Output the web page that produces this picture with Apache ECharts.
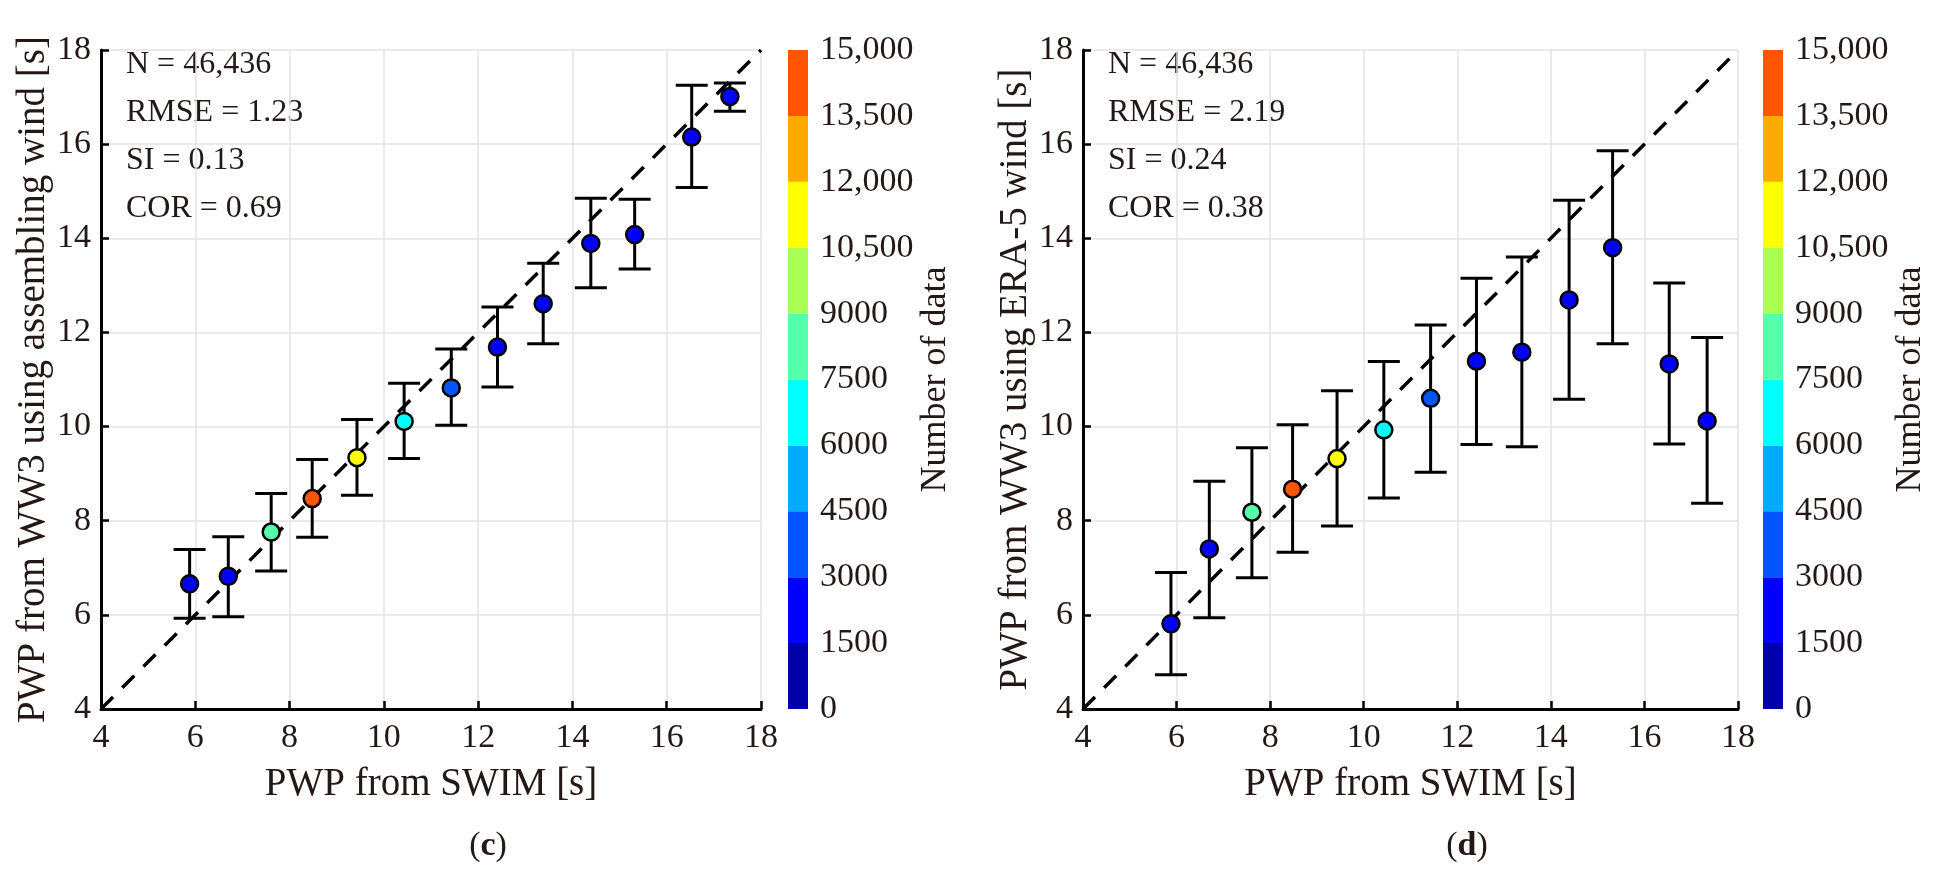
<!DOCTYPE html>
<html>
<head>
<meta charset="utf-8">
<title>PWP comparison</title>
<script src="https://cdn.jsdelivr.net/npm/echarts@6/dist/echarts.min.js"></script>
<style>
  html, body { margin: 0; padding: 0; background: #fff; }
  #chart { width: 1934px; height: 872px; }
</style>
</head>
<body>
<div id="chart"></div>
<script>
// SWIM peak wave period bins (x) and the number of samples in each bin
const swimBins = [5.88, 6.70, 7.61, 8.48, 9.43, 10.43, 11.43, 12.41, 13.38, 14.39, 15.32, 16.53, 17.34];
const binCount = [2200, 2400, 8200, 14200, 11200, 6800, 3600, 2300, 2200, 2000, 1900, 1700, 1600];

// (c) WW3 with assembling wind: mean and +/- std
const assembMean = [6.66, 6.82, 7.76, 8.47, 9.34, 10.11, 10.82, 11.69, 12.61, 13.89, 14.08, 16.15, 17.01];
const assembLow  = [5.93, 5.96, 6.93, 7.65, 8.54, 9.32, 10.03, 10.84, 11.76, 12.95, 13.35, 15.08, 16.70];
const assembHigh = [7.39, 7.66, 8.58, 9.30, 10.15, 10.92, 11.65, 12.54, 13.47, 14.85, 14.83, 17.25, 17.30];

// (d) WW3 with ERA-5 wind
const era5Mean = [5.81, 7.40, 8.18, 8.67, 9.32, 9.93, 10.60, 11.39, 11.58, 12.69, 13.80, 11.33, 10.12];
const era5Low  = [4.73, 5.94, 6.79, 7.33, 7.89, 8.48, 9.03, 9.62, 9.57, 10.58, 11.76, 9.63, 8.37];
const era5High = [6.90, 8.84, 9.55, 10.04, 10.76, 11.38, 12.16, 13.15, 13.60, 14.81, 15.86, 13.05, 11.89];

const statsC = ['N = 46,436', 'RMSE = 1.23', 'SI = 0.13', 'COR = 0.69'];
const statsD = ['N = 46,436', 'RMSE = 2.19', 'SI = 0.24', 'COR = 0.38'];

// 1:1 reference line
const oneToOne = [[4, 4], [18, 18]];

// colour bar: band edges and jet(10) colours
const cbEdges = [0, 1500, 3000, 4500, 6000, 7500, 9000, 10500, 12000, 13500, 15000];
const cbColors = ['#0000aa', '#0000ff', '#0055ff', '#00aaff', '#00ffff',
                  '#55ffaa', '#aaff55', '#ffff00', '#ffaa00', '#ff5500'];

const FONT = "'Liberation Serif', 'Times New Roman', serif";
const INK = '#231815';

let chart = echarts.init(document.getElementById('chart'));

function errBar(params, api) {
    let x = api.value(0);
    let lo = api.coord([x, api.value(1)]);
    let hi = api.coord([x, api.value(2)]);
    let hw = 16;
    let style = { stroke: '#000', lineWidth: 3, fill: null };
    return {
        type: 'group',
        children: [
            { type: 'line', shape: { x1: lo[0], y1: lo[1], x2: hi[0], y2: hi[1] }, style: style },
            { type: 'line', shape: { x1: hi[0] - hw, y1: hi[1], x2: hi[0] + hw, y2: hi[1] }, style: style },
            { type: 'line', shape: { x1: lo[0] - hw, y1: lo[1], x2: lo[0] + hw, y2: lo[1] }, style: style }
        ]
    };
}

function plotAxis(name, isX, gridIndex) {
    return {
        type: 'value',
        gridIndex: gridIndex,
        min: 4,
        max: 18,
        interval: 2,
        name: name,
        nameLocation: 'middle',
        nameGap: isX ? 56 : 46,
        nameTextStyle: { fontFamily: FONT, fontSize: 39, color: INK },
        axisLine: { show: true, onZero: false, lineStyle: { color: '#000', width: 3 } },
        axisTick: { show: true, inside: true, length: 8, lineStyle: { color: '#000', width: 2.5 } },
        axisLabel: { fontFamily: FONT, fontSize: 34, color: INK, margin: isX ? 12 : 10 },
        splitLine: { show: true, lineStyle: { color: '#e3e3e3', width: 1.5 } }
    };
}

function cbAxis(gridIndex, gap) {
    return {
        type: 'value',
        gridIndex: gridIndex,
        position: 'right',
        min: cbEdges[0],
        max: cbEdges[cbEdges.length - 1],
        interval: 1500,
        name: 'Number of data',
        nameLocation: 'middle',
        nameRotate: 90,
        nameGap: gap,
        nameTextStyle: { fontFamily: FONT, fontSize: 36, color: INK },
        axisLine: { show: false },
        axisTick: { show: false },
        splitLine: { show: false },
        axisLabel: {
            fontFamily: FONT, fontSize: 34, color: INK, margin: 12,
            formatter: function (v) {
                return v >= 10000 ? String(v).replace(/(\d)(\d{3})$/, '$1,$2') : String(v);
            }
        }
    };
}

function cbSeries(axisIndex, stackName) {
    let out = [];
    for (let i = 0; i < cbColors.length; i++) {
        out.push({
            type: 'bar',
            xAxisIndex: axisIndex,
            yAxisIndex: axisIndex,
            stack: stackName,
            barWidth: '100%',
            silent: true,
            itemStyle: { color: cbColors[i] },
            data: [cbEdges[i + 1] - cbEdges[i]]
        });
    }
    return out;
}

function statText(lines, left) {
    return {
        type: 'text',
        left: left,
        top: 41,
        style: {
            text: lines.join('\n'),
            font: '32px ' + FONT,
            fill: INK,
            lineHeight: 48
        }
    };
}

let pointsC = swimBins.map((x, i) => [x, assembMean[i], binCount[i]]);
let barsC = swimBins.map((x, i) => [x, assembLow[i], assembHigh[i]]);
let pointsD = swimBins.map((x, i) => [x, era5Mean[i], binCount[i]]);
let barsD = swimBins.map((x, i) => [x, era5Low[i], era5High[i]]);

let pieces = [];
for (let i = 0; i < cbColors.length; i++) {
    pieces.push({ gte: cbEdges[i], lt: cbEdges[i + 1], color: cbColors[i] });
}

let option = {
    backgroundColor: '#fff',
    animation: false,
    textStyle: { fontFamily: FONT },
    title: [
        { text: '({b|c})', left: 483, top: 824, textAlign: 'center',
          textStyle: { fontFamily: FONT, fontSize: 34, fontWeight: 'normal', color: INK,
                       rich: { b: { fontFamily: FONT, fontSize: 34, fontWeight: 'bold', color: INK } } } },
        { text: '({b|d})', left: 1462, top: 824, textAlign: 'center',
          textStyle: { fontFamily: FONT, fontSize: 34, fontWeight: 'normal', color: INK,
                       rich: { b: { fontFamily: FONT, fontSize: 34, fontWeight: 'bold', color: INK } } } }
    ],
    grid: [
        { left: 101, top: 50, width: 660, height: 659 },
        { left: 788, top: 50, width: 20, height: 659 },
        { left: 1083, top: 50, width: 655, height: 659 },
        { left: 1763, top: 50, width: 20, height: 659 }
    ],
    xAxis: [
        plotAxis('PWP from SWIM [s]', true, 0),
        { type: 'category', gridIndex: 1, data: ['n'], show: false },
        plotAxis('PWP from SWIM [s]', true, 2),
        { type: 'category', gridIndex: 3, data: ['n'], show: false }
    ],
    yAxis: [
        plotAxis('PWP from WW3 using assembling wind [s]', false, 0),
        cbAxis(1, 106),
        plotAxis('PWP from WW3 using ERA-5 wind [s]', false, 2),
        cbAxis(3, 104)
    ],
    visualMap: {
        type: 'piecewise',
        show: false,
        dimension: 2,
        seriesIndex: [2, 5],
        pieces: pieces
    },
    graphic: [statText(statsC, 126), statText(statsD, 1108)],
    series: [
        { type: 'line', xAxisIndex: 0, yAxisIndex: 0, data: oneToOne, symbol: 'none', silent: true,
          lineStyle: { color: '#000', width: 3.5, type: [17, 13] } },
        { type: 'custom', xAxisIndex: 0, yAxisIndex: 0, renderItem: errBar, data: barsC,
          encode: { x: 0, y: [1, 2] }, z: 3 },
        { type: 'scatter', xAxisIndex: 0, yAxisIndex: 0, data: pointsC, symbolSize: 17, z: 4,
          itemStyle: { borderColor: '#000', borderWidth: 2.5, opacity: 1 } },
        { type: 'line', xAxisIndex: 2, yAxisIndex: 2, data: oneToOne, symbol: 'none', silent: true,
          lineStyle: { color: '#000', width: 3.5, type: [17, 13] } },
        { type: 'custom', xAxisIndex: 2, yAxisIndex: 2, renderItem: errBar, data: barsD,
          encode: { x: 0, y: [1, 2] }, z: 3 },
        { type: 'scatter', xAxisIndex: 2, yAxisIndex: 2, data: pointsD, symbolSize: 17, z: 4,
          itemStyle: { borderColor: '#000', borderWidth: 2.5, opacity: 1 } }
    ].concat(cbSeries(1, 'cbLeft'), cbSeries(3, 'cbRight'))
};

chart.setOption(option);
</script>
</body>
</html>
